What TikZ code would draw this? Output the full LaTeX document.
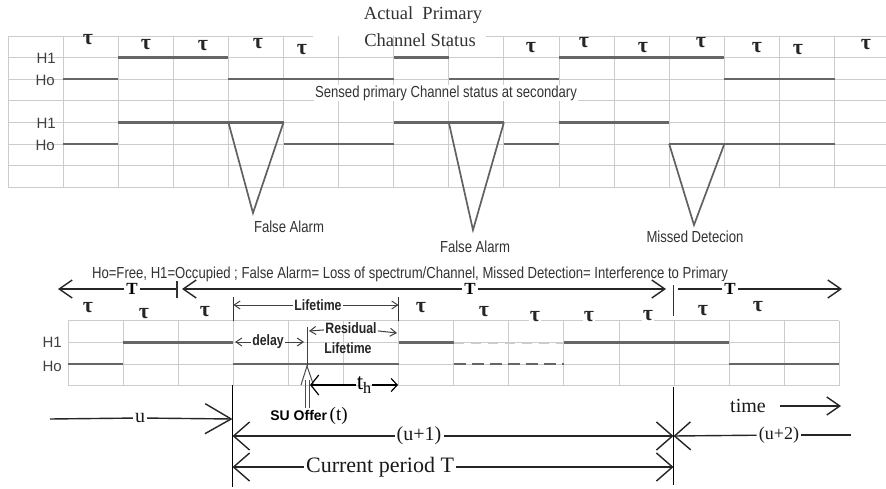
\documentclass[tikz,border=0pt]{standalone}
\usepackage{fontspec}
\setmainfont{Liberation Serif}
\newfontfamily\nsans[FakeStretch=0.82]{Liberation Sans}
\newfontfamily\rsans{Liberation Sans}
\usetikzlibrary{arrows.meta}
\begin{document}
\begin{tikzpicture}[x=1pt,y=-1pt,
  gridline/.style={draw=black!20, line width=0.9pt},
  sig/.style={draw=black!60, line width=2.5pt},
  sigdash/.style={sig, dash pattern=on 12pt off 6pt},
  siglight/.style={draw=black!20, line width=2pt, dash pattern=on 10pt off 7pt},
  tri/.style={draw=black!62, line width=1.7pt},
  tau/.style={font=\bfseries\fontsize{22}{22}\selectfont, text=black!85, inner sep=1pt},
  tauw/.style={tau, fill=white},
  lab/.style={font=\rsans\fontsize{15}{15}\selectfont, anchor=east, inner sep=1pt, text=black!75},
  stxt/.style={font=\nsans\fontsize{16}{16}\selectfont, text=black!80, inner sep=1pt},
  btxt/.style={font=\nsans\bfseries\fontsize{15}{15}\selectfont, inner sep=1pt, text=black!85},
  ttxt/.style={font=\fontsize{18.5}{18.5}\selectfont, text=black!80, inner sep=1pt},
  rtxt/.style={font=\fontsize{20}{20}\selectfont, inner sep=2pt, text=black!90},
  Tlab/.style={font=\bfseries\fontsize{17}{17}\selectfont, inner sep=2pt, fill=white},
  axis/.style={draw=black!85, line width=1.4pt},
  barb/.style={axis, -{Straight Barb[length=13pt,width=18pt]}},
  sbarb/.style={draw=black!75, line width=1pt, -{Straight Barb[length=6pt,width=8pt]}},
  bbarb/.style={axis, -{Straight Barb[length=16pt,width=28pt]}},
  bigbarb/.style={axis, -{Straight Barb[length=26pt,width=30pt]}},
  tick/.style={draw=black!80, line width=1.3pt},
  vline/.style={draw=black, line width=1.8pt}
]
\useasboundingbox (0,0) rectangle (886,489);
\fill[white] (0,0) rectangle (886,489);

% ---------- top grid ----------
\foreach \i in {0,...,15} \draw[gridline] ({8+55.1*\i},36) -- ({8+55.1*\i},187.2);
\foreach \j in {1,...,7} \draw[gridline] (8,{36+21.6*\j}) -- (886,{36+21.6*\j});
\draw[gridline] (8,36) -- (313,36);
\draw[gridline] (486,36) -- (886,36);

% title
\node[ttxt] (title1) at (423,15) {Actual\ \ Primary};
\node[ttxt] (title2) at (420,40) {Channel Status};

% tau labels (top)
\foreach \p [count=\k] in {(88,40),(146,45),(203,46),(258,44),(302,50),(531,48),(584,43),(643,48),(701,43),(757,48),(798,50),(866,45)}
  \node[tau] (tt\k) at \p {τ};

% labels
\node[lab] (h1a) at (57,58) {H1};
\node[lab] (h0a) at (56,80) {Ho};
\node[lab] (h1b) at (57,123) {H1};
\node[lab] (h0b) at (56,145) {Ho};

% actual status
\draw[sig] (63.1,79.2) -- (118.2,79.2);
\draw[sig] (118.2,57.6) -- (228.4,57.6);
\draw[sig] (228.4,79.2) -- (393.7,79.2);
\draw[sig] (393.7,57.6) -- (448.8,57.6);
\draw[sig] (448.8,79.2) -- (559,79.2);
\draw[sig] (559,57.6) -- (724.3,57.6);
\draw[sig] (724.3,79.2) -- (834.5,79.2);

\node[stxt, fill=white] (sensed) at (446,93) {Sensed primary Channel status at secondary};

% sensed status
\draw[sig] (63.1,144) -- (118.2,144);
\draw[sig] (118.2,122.4) -- (283.5,122.4);
\draw[sig] (283.5,144) -- (393.7,144);
\draw[sig] (393.7,122.4) -- (503.9,122.4);
\draw[sig] (503.9,144) -- (559,144);
\draw[sig] (559,122.4) -- (669.2,122.4);
\draw[sig] (669.2,144) -- (834.5,144);

% triangles
\draw[tri] (228.4,122.4) -- (253,213) -- (283.5,122.4);
\draw[tri] (448.8,122.4) -- (473,230) -- (503.9,122.4);
\draw[tri] (669.2,144) -- (694,225) -- (724.3,144);

\node[stxt] (fa1) at (289,227) {False Alarm};
\node[stxt] (fa2) at (475,247) {False Alarm};
\node[stxt] (md) at (695,237) {Missed Detecion};

\node[stxt] (legend) at (410,274) {Ho=Free, H1=Occupied ; False Alarm= Loss of spectrum/Channel, Missed Detection= Interference to Primary};

% ---------- period arrows ----------
\node[Tlab] (T1) at (132,289) {T};
\coordinate (T1l) at (58,289);
\coordinate (T1r) at (177,289);
\draw[barb] (T1) -- (T1l);
\draw[axis] (T1) -- (T1r);
\draw[tick] (177,281) -- (177,298);
\node[Tlab] (T2) at (470,289) {T};
\coordinate (T2l) at (182,289);
\coordinate (T2r) at (666,289);
\draw[barb] (T2) -- (T2l);
\draw[barb] (T2) -- (T2r);
\draw[tick] (673.5,285) -- (673.5,316);
\node[Tlab] (T3) at (730,289) {T};
\coordinate (T3l) at (678,289);
\coordinate (T3r) at (842,289);
\draw[axis] (T3) -- (T3l);
\draw[barb] (T3) -- (T3r);

% ---------- bottom grid ----------
\foreach \i in {0,...,14} \draw[gridline] ({68+55.1*\i},320.5) -- ({68+55.1*\i},385.5);
\foreach \y in {320.5,342.5,364,385.5} \draw[gridline] (68,\y) -- (839.4,\y);

\foreach \p [count=\k] in {(88,308),(144,314),(205,312),(421,308),(484,312),(535,317),(589,317),(648,316),(703,311),(758,307)}
  \node[tauw] (bt\k) at \p {τ};

\node[lab] (h1c) at (63,342) {H1};
\node[lab] (h0c) at (63,366) {Ho};

\draw[sig] (68,364) -- (123.1,364);
\draw[sig] (123.1,342.5) -- (233.3,342.5);
\draw[sig] (233.3,364) -- (398.6,364);
\draw[sig] (398.6,342.5) -- (453.7,342.5);
\draw[siglight] (453.7,342.5) -- (563.9,342.5);
\draw[sigdash] (453.7,364) -- (563.9,364);
\draw[sig] (563.9,342.5) -- (729.2,342.5);
\draw[sig] (729.2,364) -- (839.4,364);

% lifetime span
\draw[tick] (233.3,297) -- (233.3,321);
\draw[tick] (398.6,297) -- (398.6,321);
\node[btxt, fill=white] (lt) at (318,305) {Lifetime};
\coordinate (ltl) at (233.3,305);
\coordinate (ltr) at (398.6,305);
\draw[sbarb] (lt) -- (ltl);
\draw[sbarb] (lt) -- (ltr);

% delay
\node[btxt, fill=white] (dl) at (268,342) {delay};
\coordinate (dll) at (235,342);
\coordinate (dlr) at (304,342);
\draw[sbarb] (dl) -- (dll);
\draw[sbarb] (dl) -- (dlr);

% residual lifetime
\node[btxt] (res) at (351,328) {Residual};
\node[btxt] (res2) at (348,348) {Lifetime};
\coordinate (resl) at (309,331);
\coordinate (resr) at (397,333);
\draw[sbarb] (res) -- (resl);
\draw[sbarb] (res) -- (resr);

% SU offer marker
\coordinate (suT) at (307,327);
\coordinate (suH) at (307,366);
\draw[draw=black!75, line width=1pt] (suT) -- (suH);
\draw[draw=black!70, line width=1pt] (305,380) -- (305,408) (309.5,380) -- (309.5,408);
\draw[draw=black!70, line width=1pt] (301,385) -- (suH) -- (313.5,385);
\node[inner sep=1pt] (su) at (309,416) {{\rsans\bfseries\fontsize{14}{14}\selectfont SU Offer} {\fontsize{19}{19}\selectfont (t)}};

% t_h
\node[font=\fontsize{23}{23}\selectfont, inner sep=1pt] (th) at (364,385) {t\raisebox{-0.35ex}{\fontsize{16}{16}\selectfont h}};
\coordinate (thl) at (310,385);
\coordinate (thr) at (398,385);
\draw[draw=black, line width=1.2pt, -{Straight Barb[length=8pt,width=20pt]}] (th) -- (thl);
\draw[draw=black, line width=1.2pt, -{Straight Barb[length=6pt,width=13pt]}] (th) -- (thr);

% ---------- period axis ----------
\coordinate (vA1) at (232.5,385);
\coordinate (vA2) at (232.5,487);
\coordinate (vB1) at (673.5,387);
\coordinate (vB2) at (673.5,485);
\draw[vline] (vA1) -- (vA2);
\draw[vline] (vB1) -- (vB2);

\node[rtxt] (u) at (140,418) {u};
\coordinate (us) at (50,419);
\coordinate (ue) at (232.5,419);
\draw[axis] (u) -- (us);
\draw[bigbarb] (u) -- (ue);

\node[rtxt] (u1) at (419,436) {(u+1)};
\coordinate (u1l) at (232.5,436);
\coordinate (u1r) at (673.5,436);
\draw[bbarb] (u1) -- (u1l);
\draw[bbarb] (u1) -- (u1r);

\node[rtxt, font=\fontsize{18}{18}\selectfont] (u2) at (779,435) {(u+2)};
\coordinate (u2l) at (673.5,436);
\coordinate (u2r) at (851,435);
\draw[bbarb] (u2) -- (u2l);
\draw[axis] (u2) -- (u2r);

\node[rtxt, font=\fontsize{22}{22}\selectfont] (cp) at (380,467) {Current period T};
\coordinate (cpl) at (232.5,467);
\coordinate (cpr) at (673.5,467);
\draw[bbarb] (cp) -- (cpl);
\draw[bbarb] (cp) -- (cpr);

\node[rtxt] (time) at (748,406) {time};
\coordinate (timee) at (841,406);
\draw[barb] ([xshift=12pt]time.east) -- (timee);
\end{tikzpicture}
\end{document}
